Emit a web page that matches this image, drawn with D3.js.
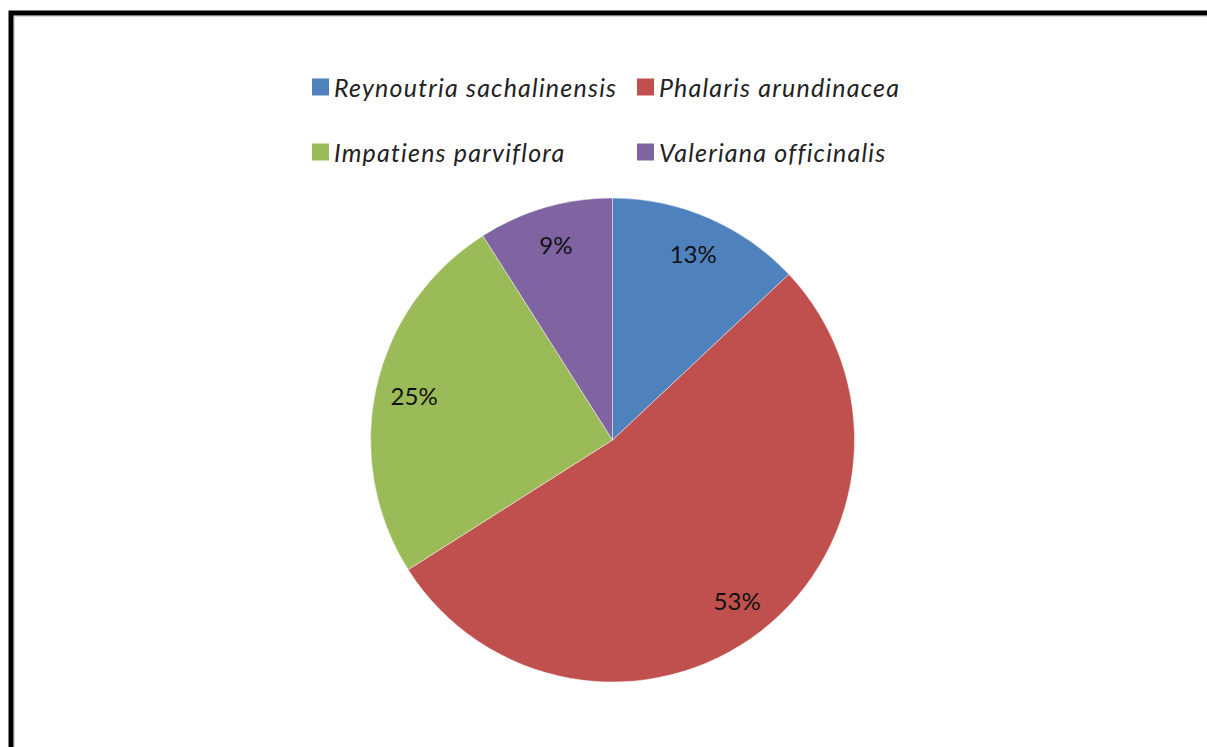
<!DOCTYPE html>
<html>
<head>
<meta charset="utf-8">
<script src="https://cdn.jsdelivr.net/npm/d3@7"></script>
<style>
  html, body { margin: 0; padding: 0; background: #fff; }
  svg { display: block; }
</style>
</head>
<body>
<svg id="chart" width="1207" height="747"></svg>
<script>
// Species share (%)
const species = ["Reynoutria sachalinensis", "Phalaris arundinacea", "Impatiens parviflora", "Valeriana officinalis"];
const shares = [13, 53, 25, 9];
const colors = ["#4F81BD", "#C0504D", "#9BBB59", "#8064A2"];

const W = 1207, H = 747;
const svg = d3.select("#chart");

// Frame around the chart area (runs off the right and bottom edges)
svg.append("rect")
  .attr("x", 11).attr("y", 13)
  .attr("width", W + 20).attr("height", H + 20)
  .attr("fill", "none")
  .attr("stroke", "#000")
  .attr("stroke-width", 5);
svg.append("rect")
  .attr("x", 14.5).attr("y", 16.5)
  .attr("width", W + 20).attr("height", H + 20)
  .attr("fill", "none")
  .attr("stroke", "#d8d8d8")
  .attr("stroke-width", 1);

// Pie
const cx = 612.5, cy = 440, r = 242;
const data = species.map((s, i) => ({ name: s, value: shares[i], color: colors[i] }));
const pie = d3.pie().value(d => d.value).sort(null);
const arcs = pie(data);
const arc = d3.arc().innerRadius(0).outerRadius(r);
const labelArc = d3.arc().innerRadius(r * 0.84).outerRadius(r * 0.84);

const g = svg.append("g").attr("transform", `translate(${cx},${cy})`);
g.selectAll("path.slice")
  .data(arcs)
  .join("path")
  .attr("class", "slice")
  .attr("d", arc)
  .attr("fill", d => d.data.color)
  .attr("stroke", "rgba(255,255,255,0.45)")
  .attr("stroke-width", 1);

g.selectAll("text.pct")
  .data(arcs)
  .join("text")
  .attr("class", "pct")
  .attr("transform", d => `translate(${labelArc.centroid(d)})`)
  .attr("text-anchor", "middle")
  .attr("dominant-baseline", "central")
  .attr("font-family", "Lato, 'Open Sans', sans-serif")
  .attr("font-size", 24)
  .attr("fill", "#111")
  .text(d => d3.format(".0f")(d.data.value) + "%");

// Legend: two rows of two entries
const legendCols = [312, 637];
const legendRows = [87, 152];
const sw = 17;
const legend = svg.append("g");
data.forEach((d, i) => {
  const x = legendCols[i % 2], y = legendRows[Math.floor(i / 2)];
  legend.append("rect")
    .attr("x", x).attr("y", y - sw / 2)
    .attr("width", sw).attr("height", sw)
    .attr("fill", d.color);
  legend.append("text")
    .attr("x", x + sw + 5).attr("y", y)
    .attr("dominant-baseline", "central")
    .attr("font-family", "Lato, 'Open Sans', sans-serif")
    .attr("font-style", "italic")
    .attr("font-size", 25)
    .attr("letter-spacing", 1.2)
    .attr("fill", "#222")
    .text(d.name);
});
</script>
</body>
</html>
